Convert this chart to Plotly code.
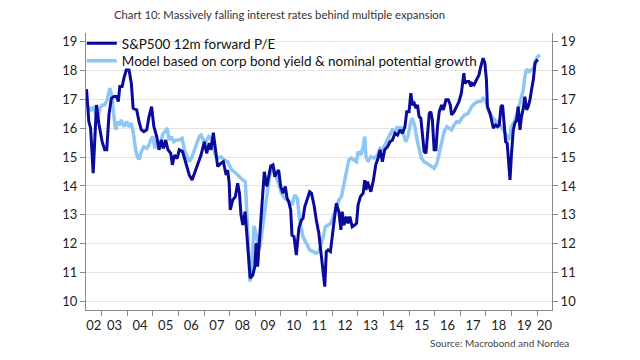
import plotly.graph_objects as go

# S&P500 12m forward P/E (decimal year, value)
pe_year = [2002.41, 2002.50, 2002.57, 2002.67, 2002.80, 2002.89, 2003.02, 2003.12, 2003.20, 2003.29,
           2003.38, 2003.48, 2003.59, 2003.65, 2003.71, 2003.80, 2003.87, 2003.96, 2004.07, 2004.16,
           2004.23, 2004.37, 2004.46, 2004.55, 2004.65, 2004.76, 2004.85, 2004.95, 2005.04, 2005.15,
           2005.24, 2005.33, 2005.41, 2005.50, 2005.59, 2005.70, 2005.76, 2005.85, 2005.95, 2006.03,
           2006.16, 2006.29, 2006.42, 2006.53, 2006.62, 2006.75, 2006.88, 2007.01, 2007.10, 2007.20,
           2007.27, 2007.36, 2007.44, 2007.53, 2007.66, 2007.75, 2007.86, 2007.92, 2007.98, 2008.02,
           2008.12, 2008.22, 2008.31, 2008.38, 2008.44, 2008.51, 2008.60, 2008.66, 2008.74, 2008.80,
           2008.90, 2008.98, 2009.03, 2009.09, 2009.16, 2009.26, 2009.35, 2009.45, 2009.60, 2009.69,
           2009.76, 2009.82, 2009.91, 2009.99, 2010.08, 2010.17, 2010.24, 2010.30, 2010.38, 2010.43,
           2010.51, 2010.60, 2010.70, 2010.80, 2010.86, 2010.93, 2011.03, 2011.12, 2011.19, 2011.29,
           2011.38, 2011.48, 2011.55, 2011.64, 2011.71, 2011.77, 2011.84, 2011.93, 2012.00, 2012.07,
           2012.16, 2012.26, 2012.34, 2012.39, 2012.46, 2012.55, 2012.62, 2012.69, 2012.78, 2012.88,
           2012.95, 2013.01, 2013.10, 2013.21, 2013.27, 2013.32, 2013.37, 2013.44, 2013.51, 2013.61,
           2013.70, 2013.79, 2013.87, 2013.96, 2014.05, 2014.16, 2014.26, 2014.35, 2014.45, 2014.55,
           2014.65, 2014.74, 2014.84, 2014.91, 2015.00, 2015.07, 2015.13, 2015.20, 2015.27, 2015.33,
           2015.39, 2015.46, 2015.52, 2015.59, 2015.66, 2015.72, 2015.79, 2015.85, 2015.91, 2015.98,
           2016.05, 2016.11, 2016.18, 2016.27, 2016.34, 2016.44, 2016.53, 2016.61, 2016.66, 2016.76,
           2016.86, 2016.95, 2017.04, 2017.14, 2017.18, 2017.25, 2017.34, 2017.42, 2017.46, 2017.54,
           2017.63, 2017.73, 2017.80, 2017.89, 2017.96, 2018.02, 2018.06, 2018.16, 2018.22, 2018.29,
           2018.38, 2018.45, 2018.52, 2018.59, 2018.65, 2018.71, 2018.77, 2018.83, 2018.90, 2018.94,
           2019.00, 2019.07, 2019.13, 2019.20, 2019.26, 2019.33, 2019.39, 2019.46, 2019.52, 2019.59,
           2019.65, 2019.72, 2019.78, 2019.85, 2019.92, 2019.98, 2020.02]
pe_value = [17.35, 16.23, 16.00, 14.44, 16.80, 16.17, 15.53, 15.25, 15.25, 16.50,
            17.03, 17.09, 17.09, 16.92, 17.44, 17.44, 17.73, 18.01, 18.01, 17.55,
            16.69, 16.63, 16.22, 15.94, 15.88, 15.94, 16.40, 16.74, 16.05, 15.71,
            15.25, 15.59, 15.30, 15.59, 15.25, 15.13, 14.73, 15.07, 14.95, 15.25,
            15.19, 14.79, 14.38, 14.21, 14.44, 14.79, 15.07, 15.53, 15.13, 15.48,
            15.25, 15.84, 15.25, 14.67, 14.79, 14.84, 14.38, 14.55, 14.09, 13.17,
            13.52, 13.63, 14.09, 13.75, 13.00, 12.65, 13.11, 12.48, 11.55, 10.81,
            10.92, 11.21, 12.02, 11.21, 12.13, 13.28, 14.49, 13.98, 14.69, 14.73,
            14.32, 14.44, 14.55, 13.98, 13.75, 13.98, 13.57, 13.46, 13.17, 12.30,
            12.25, 11.61, 12.54, 12.82, 12.88, 13.28, 13.57, 13.80, 13.75, 13.34,
            12.82, 12.36, 11.79, 11.03, 10.52, 11.73, 11.79, 11.73, 12.25, 12.82,
            13.40, 13.11, 12.48, 13.11, 12.65, 12.94, 12.71, 12.94, 12.59, 12.65,
            12.71, 13.34, 13.63, 13.75, 14.20, 13.86, 14.15, 13.98, 13.80, 14.21,
            14.73, 14.96, 15.25, 14.84, 15.25, 15.36, 15.53, 15.59, 15.82, 15.76,
            15.94, 15.82, 16.05, 16.57, 16.57, 17.21, 16.80, 16.86, 16.69, 16.80,
            16.40, 16.34, 15.82, 15.19, 15.13, 15.76, 16.51, 16.57, 16.28, 15.25,
            15.25, 16.05, 16.57, 16.80, 16.63, 16.98, 16.98, 16.80, 16.46, 16.57,
            16.74, 16.92, 17.20, 17.90, 17.55, 17.61, 17.61, 17.44, 17.55, 17.50,
            17.67, 17.84, 18.13, 18.42, 18.25, 17.67, 16.74, 16.51, 16.28, 16.00,
            16.11, 16.05, 16.11, 16.74, 16.80, 16.17, 15.53, 15.48, 14.67, 14.21,
            15.13, 15.94, 16.17, 16.28, 16.74, 15.94, 16.40, 16.69, 17.09, 16.63,
            16.74, 16.98, 17.32, 17.67, 18.25, 18.36, 18.38]

# Model based on corp bond yield & nominal potential growth
model_year = [2002.46, 2002.59, 2002.70, 2002.83, 2002.93, 2003.02, 2003.12, 2003.22, 2003.32, 2003.41,
              2003.48, 2003.55, 2003.61, 2003.68, 2003.77, 2003.87, 2003.98, 2004.07, 2004.16, 2004.23,
              2004.33, 2004.39, 2004.47, 2004.55, 2004.65, 2004.76, 2004.85, 2004.91, 2005.00, 2005.08,
              2005.17, 2005.28, 2005.37, 2005.46, 2005.56, 2005.63, 2005.72, 2005.82, 2005.93, 2006.03,
              2006.14, 2006.23, 2006.32, 2006.42, 2006.53, 2006.62, 2006.71, 2006.81, 2006.88, 2006.97,
              2007.07, 2007.18, 2007.27, 2007.36, 2007.44, 2007.53, 2007.66, 2007.79, 2007.92, 2008.01,
              2008.09, 2008.18, 2008.31, 2008.40, 2008.51, 2008.61, 2008.66, 2008.70, 2008.74, 2008.79,
              2008.87, 2008.95, 2009.05, 2009.12, 2009.18, 2009.26, 2009.35, 2009.45, 2009.55, 2009.69,
              2009.82, 2009.95, 2010.02, 2010.15, 2010.28, 2010.43, 2010.54, 2010.64, 2010.73, 2010.86,
              2010.99, 2011.12, 2011.25, 2011.38, 2011.48, 2011.58, 2011.67, 2011.73, 2011.84, 2011.95,
              2012.04, 2012.16, 2012.26, 2012.36, 2012.46, 2012.55, 2012.65, 2012.75, 2012.86, 2012.95,
              2013.01, 2013.12, 2013.21, 2013.27, 2013.32, 2013.40, 2013.51, 2013.64, 2013.77, 2013.87,
              2013.96, 2014.05, 2014.16, 2014.26, 2014.35, 2014.45, 2014.55, 2014.62, 2014.68, 2014.79,
              2014.87, 2014.96, 2015.07, 2015.13, 2015.23, 2015.30, 2015.39, 2015.48, 2015.59, 2015.70,
              2015.79, 2015.88, 2015.98, 2016.09, 2016.18, 2016.27, 2016.37, 2016.48, 2016.57, 2016.66,
              2016.76, 2016.86, 2016.96, 2017.05, 2017.18, 2017.31, 2017.44, 2017.57, 2017.70, 2017.81,
              2017.89, 2017.96, 2018.02, 2018.12, 2018.22, 2018.33, 2018.46, 2018.59, 2018.71, 2018.80,
              2018.87, 2018.94, 2019.00, 2019.11, 2019.20, 2019.29, 2019.37, 2019.46, 2019.52, 2019.59,
              2019.68, 2019.78, 2019.89, 2019.94, 2020.02, 2020.11]
model_value = [16.74, 16.63, 16.74, 16.28, 16.69, 16.80, 16.80, 16.98, 17.38, 17.09,
               16.40, 15.94, 16.23, 16.11, 16.28, 16.05, 16.23, 16.05, 16.17, 15.88,
               15.25, 15.01, 14.92, 15.19, 15.36, 15.30, 15.42, 15.59, 15.71, 15.30,
               15.59, 15.30, 15.76, 15.88, 16.00, 15.59, 15.71, 15.53, 15.59, 15.59,
               15.65, 15.25, 15.07, 14.84, 15.01, 15.25, 15.42, 15.71, 15.76, 15.59,
               15.53, 15.71, 15.65, 15.36, 15.07, 14.96, 15.01, 14.90, 14.84, 14.67,
               14.55, 14.49, 14.38, 14.27, 14.21, 14.15, 13.17, 12.36, 11.67, 10.69,
               11.33, 12.62, 12.25, 11.79, 11.90, 12.40, 12.94, 13.75, 14.32, 14.67,
               14.30, 14.00, 13.75, 13.57, 13.50, 13.34, 13.69, 13.57, 12.82, 12.25,
               12.02, 11.79, 11.73, 11.67, 11.73, 12.02, 12.30, 12.59, 12.65, 12.71,
               12.94, 13.23, 13.52, 13.63, 14.03, 14.38, 14.90, 14.96, 14.90, 14.84,
               15.19, 15.07, 15.36, 15.71, 15.01, 14.84, 15.01, 14.96, 15.07, 15.30,
               15.25, 15.42, 15.65, 15.82, 15.94, 15.88, 16.05, 15.88, 16.05, 15.76,
               15.53, 15.71, 16.23, 16.34, 16.05, 15.65, 15.25, 14.96, 14.84, 14.79,
               14.73, 14.67, 14.61, 14.79, 15.13, 15.53, 15.88, 16.05, 16.00, 15.94,
               16.11, 16.23, 16.20, 16.34, 16.46, 16.51, 16.74, 16.86, 16.92, 16.92,
               17.03, 16.98, 16.86, 16.57, 16.40, 16.28, 16.17, 16.05, 15.88, 15.76,
               15.59, 15.71, 16.05, 16.23, 16.46, 16.74, 17.03, 17.32, 17.78, 18.04,
               17.96, 18.01, 18.13, 18.36, 18.47, 18.53]

year_ticks = list(range(2003, 2021))
year_labels = ["02", "03", "04", "05", "06", "07", "08", "09", "10", "11",
               "12", "13", "14", "15", "16", "17", "18", "19", "20"]
y_ticks = list(range(10, 20))

x_range = [2002.39, 2020.58]
y_range = [9.71, 19.29]

# label positions: centre of the visible part of each year
label_pos = []
for i, lab in enumerate(year_labels):
    start = max(2002 + i, x_range[0])
    end = min(2003 + i, x_range[1])
    label_pos.append((start + end) / 2)

DARK = "#0A0A9B"
LIGHT = "#8EC6F4"
AXIS = "#8a8a8a"
GRID = "#e3e3e3"
FONT = "Lato"

fig = go.Figure()
fig.add_trace(go.Scatter(x=model_year, y=model_value, mode="lines",
                         name="Model based on corp bond yield & nominal potential growth",
                         legend="legend2",
                         line=dict(color=LIGHT, width=3.5)))
fig.add_trace(go.Scatter(x=pe_year, y=pe_value, mode="lines",
                         name="S&P500 12m forward P/E",
                         legend="legend",
                         line=dict(color=DARK, width=3)))
# helper trace for the mirrored axes
fig.add_trace(go.Scatter(x=pe_year, y=pe_value, mode="lines", xaxis="x2", yaxis="y2",
                         line=dict(color="rgba(0,0,0,0)", width=0),
                         showlegend=False, hoverinfo="skip"))

legend_font = dict(family=FONT, size=13.5, color="#111111")
fig.update_layout(
    width=640, height=360,
    margin=dict(l=86, r=88, t=33, b=50),
    paper_bgcolor="white", plot_bgcolor="white",
    font=dict(family=FONT, color="#222222", size=13),
    showlegend=True,
    legend=dict(x=-0.009, y=1.018, xanchor="left", yanchor="top",
                bgcolor="rgba(255,255,255,0)", font=legend_font),
    legend2=dict(x=-0.009, y=0.955, xanchor="left", yanchor="top",
                 bgcolor="rgba(255,255,255,0)", font=legend_font),
    xaxis=dict(range=x_range, tickvals=year_ticks, showticklabels=False,
               ticks="outside", ticklen=5, tickcolor=AXIS,
               showline=True, linecolor=AXIS, linewidth=1,
               showgrid=False, zeroline=False),
    xaxis2=dict(range=x_range, overlaying="x", anchor="y", side="bottom",
                tickvals=label_pos, ticktext=year_labels,
                ticks="outside", ticklen=3, tickcolor="rgba(0,0,0,0)",
                tickfont=dict(family=FONT, size=13, color="#222222"),
                showline=False, showgrid=False, zeroline=False),
    yaxis=dict(range=y_range, tickvals=y_ticks, ticks="outside", ticklen=5,
               tickcolor=AXIS, showline=True, linecolor=AXIS, linewidth=1,
               showgrid=True, gridcolor=GRID, gridwidth=1, zeroline=False,
               tickfont=dict(family=FONT, size=13, color="#222222")),
    yaxis2=dict(range=y_range, overlaying="y", side="right", anchor="x",
                tickvals=y_ticks, ticks="outside", ticklen=5,
                tickcolor=AXIS, showline=True, linecolor=AXIS, linewidth=1,
                showgrid=False, zeroline=False,
                tickfont=dict(family=FONT, size=13, color="#222222")),
)

fig.add_annotation(text="Chart 10: Massively falling interest rates behind multiple expansion",
                   xref="paper", yref="paper", x=(112 - 86) / 465.7, y=1 + (33 - 15) / 277,
                   xanchor="left", yanchor="middle", showarrow=False,
                   font=dict(family=FONT, size=11.3, color="#333333"))
fig.add_annotation(text="Source: Macrobond and Nordea",
                   xref="paper", yref="paper", x=(571 - 86) / 465.7, y=-(343 - 310) / 277,
                   xanchor="right", yanchor="middle", showarrow=False,
                   font=dict(family=FONT, size=10, color="#444444"))

fig.write_html("out.html", config={"displayModeBar": False},
               post_script="document.body.style.margin='0px';")
